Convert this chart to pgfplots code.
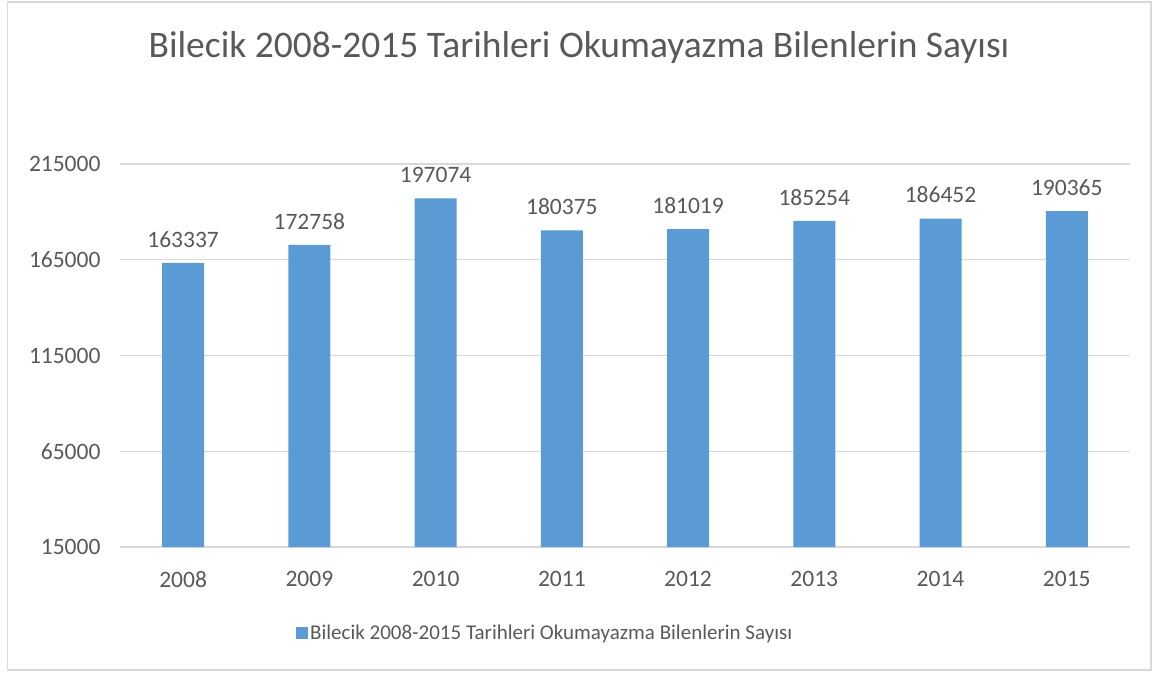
\documentclass[border=0pt]{standalone}
\usepackage{pgfplots}
\pgfplotsset{compat=1.18}
\usepackage{fontspec}
\setmainfont{Carlito}
\definecolor{barblue}{HTML}{5B9BD5}
\definecolor{txt}{HTML}{595959}
\definecolor{gridc}{HTML}{D9D9D9}
\begin{document}
\begin{tikzpicture}[x=1pt,y=1pt]
\fill[white] (0,0) rectangle (1158,675);
\draw[color=gridc, line width=1.5pt] (7.5,5) rectangle (1151,673);
\node[text=txt, font=\fontsize{37.5}{44}\selectfont] at (579,627) {Bilecik 2008-2015 Tarihleri Okumayazma Bilenlerin Sayısı};
\begin{axis}[
  at={(120pt,128pt)}, anchor=south west,
  scale only axis, width=1010pt, height=383pt,
  xmin=-0.5, xmax=7.5, ymin=15000, ymax=215000,
  xtick=data, xticklabels={2008,2009,2010,2011,2012,2013,2014,2015},
  ytick={15000,65000,115000,165000,215000},
  scaled y ticks=false,
  axis line style={draw=none}, major tick length=0pt,
  ymajorgrids, grid style={color=gridc, line width=1.2pt},
  /pgf/number format/assume math mode=true,
  yticklabel={\pgfmathprintnumber[fixed,1000 sep={}]{\tick}},
  ticklabel style={text=txt, font=\fontsize{23.5}{28}\selectfont},
  yticklabel style={xshift=-16pt},
  xticklabel style={yshift=-21pt},
  ybar, bar width=42pt,
  nodes near coords,
  nodes near coords style={text=txt, font=\fontsize{23.5}{28}\selectfont, /pgf/number format/fixed, /pgf/number format/1000 sep={}, /pgf/number format/precision=0, yshift=12pt},
  legend style={draw=none, at={(0.421,-0.2245)}, anchor=center, font=\fontsize{21}{25}\selectfont, text=txt, legend cell align=left},
  legend image code/.code={\fill[barblue] (0pt,-6pt) rectangle (12pt,6pt);},
]
\addplot[fill=barblue, draw=none] coordinates {(0,163337) (1,172758) (2,197074) (3,180375) (4,181019) (5,185254) (6,186452) (7,190365)};
\addlegendentry{Bilecik 2008-2015 Tarihleri Okumayazma Bilenlerin Sayısı}
\end{axis}
\end{tikzpicture}
\end{document}
